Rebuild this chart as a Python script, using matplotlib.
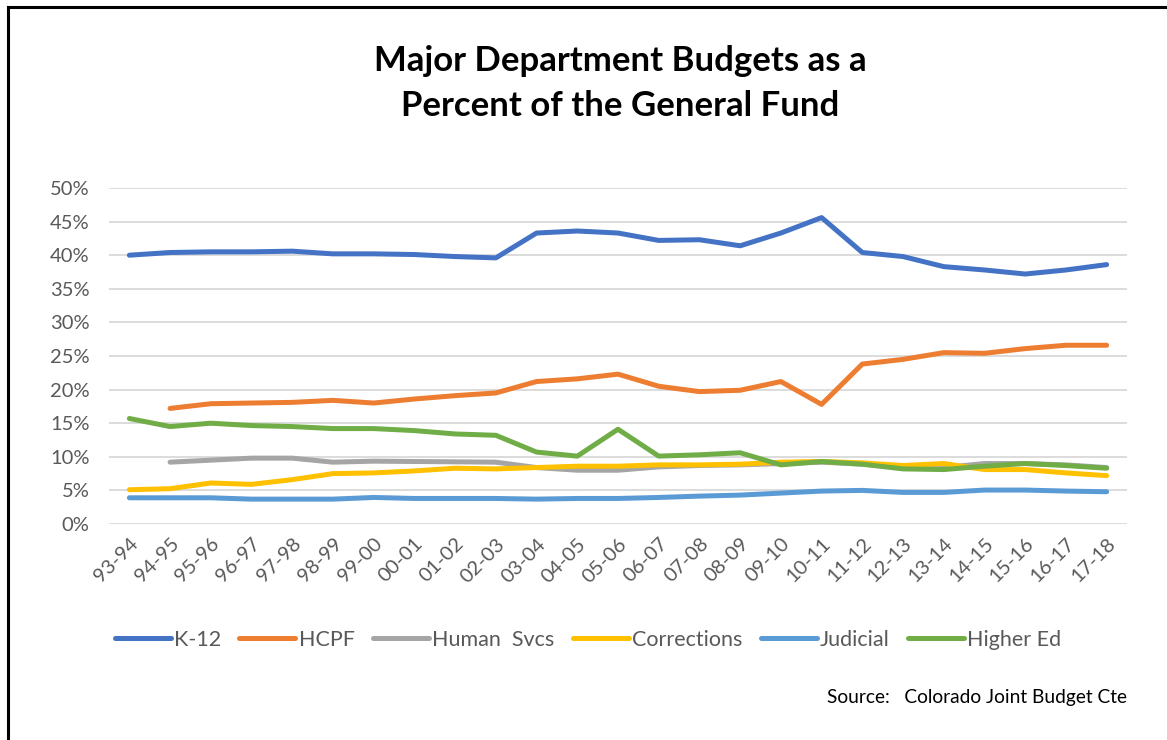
import matplotlib
matplotlib.use("Agg")
import matplotlib.pyplot as plt
import numpy as np
from matplotlib.lines import Line2D

years = ["93-94", "94-95", "95-96", "96-97", "97-98", "98-99", "99-00", "00-01",
         "01-02", "02-03", "03-04", "04-05", "05-06", "06-07", "07-08", "08-09",
         "09-10", "10-11", "11-12", "12-13", "13-14", "14-15", "15-16", "16-17", "17-18"]

k12 = [40.0, 40.4, 40.5, 40.5, 40.6, 40.2, 40.2, 40.1, 39.8, 39.6, 43.3, 43.6,
       43.3, 42.2, 42.3, 41.4, 43.3, 45.6, 40.4, 39.8, 38.3, 37.8, 37.2, 37.8, 38.6]
hcpf = [np.nan, 17.2, 17.9, 18.0, 18.1, 18.4, 18.0, 18.6, 19.1, 19.5, 21.2, 21.6,
        22.3, 20.5, 19.7, 19.9, 21.2, 17.8, 23.8, 24.5, 25.5, 25.4, 26.1, 26.6, 26.6]
human_svcs = [np.nan, 9.2, 9.5, 9.8, 9.8, 9.2, 9.35, 9.3, 9.25, 9.2, 8.4, 8.0,
              8.0, 8.5, 8.7, 8.8, 9.0, 9.2, 8.9, 8.4, 8.4, 9.0, 9.0, 8.8, 8.4]
corrections = [5.1, 5.25, 6.1, 5.9, 6.6, 7.5, 7.6, 7.9, 8.3, 8.2, 8.4, 8.6,
               8.6, 8.8, 8.8, 8.9, 9.2, 9.3, 9.1, 8.7, 9.0, 8.1, 8.1, 7.6, 7.2]
judicial = [3.9, 3.9, 3.9, 3.7, 3.7, 3.7, 3.95, 3.8, 3.8, 3.8, 3.7, 3.8,
            3.8, 3.95, 4.15, 4.3, 4.6, 4.9, 5.0, 4.7, 4.7, 5.05, 5.05, 4.9, 4.8]
higher_ed = [15.7, 14.5, 15.0, 14.65, 14.5, 14.2, 14.2, 13.9, 13.4, 13.2, 10.7, 10.1,
             14.1, 10.1, 10.3, 10.6, 8.8, 9.3, 8.9, 8.2, 8.1, 8.6, 9.0, 8.7, 8.3]

series = [("K-12", k12, "#4472C4"),
          ("HCPF", hcpf, "#ED7D31"),
          ("Human  Svcs", human_svcs, "#A5A5A5"),
          ("Corrections", corrections, "#FFC000"),
          ("Judicial", judicial, "#5B9BD5"),
          ("Higher Ed", higher_ed, "#70AD47")]

yticks = [0, 5, 10, 15, 20, 25, 30, 35, 40, 45, 50]
ytick_labels = [f"{v}%" for v in yticks]

FONT = ["Lato", "DejaVu Sans"]
plt.rcParams['font.family'] = FONT

W, H = 1167, 740
fig = plt.figure(figsize=(W / 100, H / 100), dpi=100)

# axes: x 109..1127, y 188 (50%)..524 (0%)
ax = fig.add_axes([109 / W, 1 - 524 / H, (1127 - 109) / W, (524 - 188) / H])
x = np.arange(len(years))
for name, vals, col in series:
    ax.plot(x, vals, color=col, lw=3.6, solid_capstyle="round",
            solid_joinstyle="round", zorder=3)

ax.set_xlim(-0.5, len(years) - 0.5)
ax.set_ylim(0, 50)
ax.set_yticks(yticks)
ax.set_yticklabels(ytick_labels)
ax.set_xticks(x)
ax.set_xticklabels(years, rotation=45, ha="right", rotation_mode="anchor")
ax.grid(axis="y", color="#D9D9D9", lw=1.3, zorder=0)
ax.grid(axis="x", visible=False)
for s in ax.spines.values():
    s.set_visible(False)
ax.tick_params(axis="both", length=0, labelsize=14.5, labelcolor="#595959")
ax.tick_params(axis="y", pad=14)
ax.tick_params(axis="x", pad=8)

# title
fig.text(620 / W, 1 - 61 / H, "Major Department Budgets as a", ha="center", va="center",
         fontsize=25, fontweight="bold", color="black")
fig.text(620 / W, 1 - 106 / H, "Percent of the General Fund", ha="center", va="center",
         fontsize=25, fontweight="bold", color="black")

# legend
handles = [Line2D([0], [0], color=col, lw=3.6, solid_capstyle="round") for _, _, col in series]
labels = [name for name, _, _ in series]
leg = fig.legend(handles, labels, loc="center", bbox_to_anchor=(588 / W, 1 - 640 / H),
                 ncol=6, frameon=False, fontsize=15.5, handlelength=2.6, handletextpad=0.15,
                 columnspacing=0.85)
for t in leg.get_texts():
    t.set_color("#595959")

# source
fig.text(1127 / W, 1 - 698 / H, "Source:   Colorado Joint Budget Cte", ha="right", va="center",
         fontsize=13.8, color="black")

# border lines
fig.add_artist(Line2D([8 / W, 8 / W], [0, 1 - 7 / H], color="black", lw=2.2))
fig.add_artist(Line2D([8 / W, 1], [1 - 7 / H, 1 - 7 / H], color="black", lw=2.2))

fig.savefig("out.png", dpi=100, facecolor="white")
